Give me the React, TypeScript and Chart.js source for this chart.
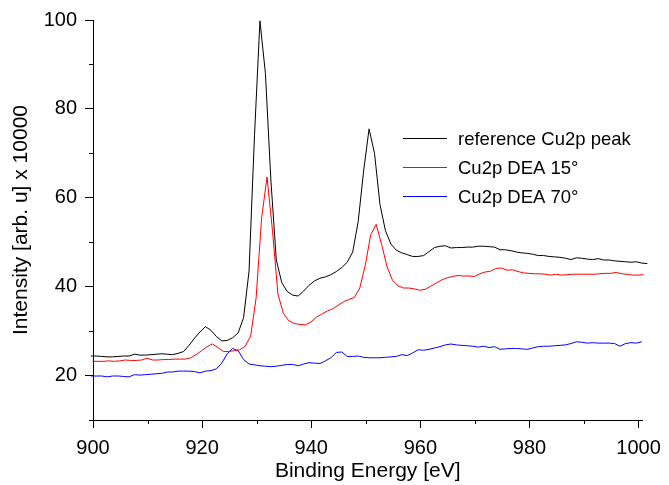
import React, { useEffect, useRef } from "react";
import { Chart, registerables } from "chart.js";

Chart.register(...registerables);

// Energy grids (eV): first sample and constant step of each spectrum
const refStart = 899.6;
const dea15Start = 899.9;
const dea70Start = 899.6;
const stepEV = 1;

// Intensities [arb. u] x 10000
const refPeak = [
  24.4, 24.4, 24.3, 24.2, 24.2, 24.3, 24.4, 24.4, 24.8, 24.6,
  24.6, 24.7, 24.8, 24.9, 24.8, 24.7, 25.0, 25.4, 26.8, 28.4,
  29.8, 31.0, 30.2, 28.8, 27.8, 27.9, 28.5, 29.6, 33.0, 43.5,
  74.0, 99.8, 88.0, 64.0, 46.0, 40.9, 38.9, 38.1, 37.9, 39.0,
  40.3, 41.3, 41.9, 42.2, 42.7, 43.4, 44.3, 45.5, 47.8, 54.6,
  66.0, 75.5, 70.0, 58.5, 52.6, 49.6, 48.2, 47.6, 47.2, 46.8,
  46.8, 47.0, 47.9, 48.8, 49.1, 49.2, 48.7, 48.8, 48.8, 48.9,
  48.9, 49.1, 49.1, 49.0, 48.9, 48.3, 48.3, 48.1, 47.8, 47.6,
  47.5, 47.3, 47.0, 47.0, 46.8, 46.7, 46.6, 46.4, 46.1, 46.5,
  46.4, 46.2, 46.1, 46.3, 46.0, 46.0, 45.8, 45.7, 45.6, 45.5,
  45.6, 45.3, 45.2,
];

const dea15 = [
  23.2, 23.2, 23.2, 23.3, 23.2, 23.3, 23.5, 23.4, 23.4, 23.5,
  23.9, 23.5, 23.5, 23.6, 23.6, 23.7, 23.7, 23.7, 24.0, 24.7,
  25.6, 26.5, 27.1, 26.3, 25.4, 25.4, 25.6, 25.8, 26.6, 28.9,
  37.5, 55.4, 64.7, 52.5, 38.3, 34.0, 32.3, 31.7, 31.5, 31.4,
  32.0, 33.1, 33.8, 34.5, 35.0, 35.8, 36.6, 37.1, 37.6, 39.7,
  44.8, 51.7, 54.0, 49.5, 44.5, 41.4, 40.2, 39.7, 39.7, 39.5,
  39.2, 39.4, 40.1, 40.8, 41.5, 42.0, 42.3, 42.5, 42.4, 42.4,
  42.3, 42.9, 43.3, 43.5, 44.1, 44.2, 43.7, 43.8, 43.4, 43.1,
  43.0, 42.9, 42.9, 42.8, 42.6, 42.8, 42.6, 42.7, 42.8, 42.8,
  42.8, 42.8, 42.8, 42.9, 43.0, 43.0, 43.2, 42.9, 42.8, 42.6,
  42.6, 42.7,
];

const dea70 = [
  19.9, 19.9, 19.9, 19.7, 19.9, 19.9, 19.8, 19.7, 20.2, 20.1,
  20.2, 20.3, 20.4, 20.5, 20.8, 20.8, 21.0, 21.0, 21.0, 20.9,
  20.6, 21.0, 21.1, 21.5, 22.8, 24.9, 26.1, 25.6, 23.6, 22.6,
  22.4, 22.2, 22.1, 22.0, 22.1, 22.3, 22.5, 22.5, 22.2, 22.6,
  22.9, 22.8, 22.7, 23.3, 24.0, 25.2, 25.3, 24.3, 24.3, 24.4,
  24.1, 24.0, 24.0, 24.0, 24.1, 24.2, 24.3, 24.7, 24.5, 25.1,
  25.8, 25.7, 25.9, 26.2, 26.5, 26.9, 27.1, 26.9, 26.8, 26.7,
  26.6, 26.4, 26.6, 26.3, 26.5, 25.9, 26.0, 26.1, 26.1, 26.0,
  25.9, 26.2, 26.5, 26.6, 26.6, 26.7, 26.8, 26.9, 27.2, 27.6,
  27.5, 27.3, 27.4, 27.3, 27.3, 27.3, 27.2, 26.6, 27.2, 27.4,
  27.3, 27.6,
];

const seriesLabels = ["reference Cu2p peak", "Cu2p DEA 15\u00b0", "Cu2p DEA 70\u00b0"];
const seriesColors = ["#000000", "#ff0000", "#0000ff"];

const xMajorTicks = [900, 920, 940, 960, 980, 1000];
const xMinorTicks = [910, 930, 950, 970, 990];
const yMajorTicks = [20, 40, 60, 80, 100];
const yMinorTicks = [10, 30, 50, 70, 90];

const xTitle = "Binding Energy [eV]";
const yTitle = "Intensity [arb. u] x 10000";

const FONT = "'Liberation Sans', Arial, Helvetica, sans-serif";

function toPoints(start: number, values: number[]) {
  return values.map((v, i) => ({ x: Math.round((start + i * stepEV) * 10) / 10, y: v }));
}

const decorPlugin = {
  id: "decor",
  afterDraw(chart: any) {
    const { ctx, scales } = chart;
    const xs = scales.x;
    const ys = scales.y;
    ctx.save();
    ctx.strokeStyle = "#000";
    ctx.lineWidth = 1;
    ctx.beginPath();
    for (const v of xMinorTicks) {
      const px = Math.round(xs.getPixelForValue(v)) + 0.5;
      ctx.moveTo(px, ys.bottom);
      ctx.lineTo(px, ys.bottom + 4);
    }
    for (const v of yMinorTicks) {
      const py = Math.round(ys.getPixelForValue(v)) + 0.5;
      ctx.moveTo(xs.left - 4, py);
      ctx.lineTo(xs.left, py);
    }
    ctx.stroke();

    // legend inside the plot
    const lx0 = 403;
    const lx1 = 447;
    const tx = 458;
    const y0 = 138;
    const dy = 29;
    ctx.font = `18.5px ${FONT}`;
    ctx.textBaseline = "middle";
    ctx.textAlign = "left";
    chart.data.datasets.forEach((ds: any, i: number) => {
      const yy = y0 + i * dy + 0.5;
      ctx.strokeStyle = ds.borderColor;
      ctx.beginPath();
      ctx.moveTo(lx0, yy);
      ctx.lineTo(lx1, yy);
      ctx.stroke();
      ctx.fillStyle = "#000";
      ctx.fillText(ds.label, tx, yy + 1);
    });
    ctx.restore();
  },
};

export default function App() {
  const canvasRef = useRef<HTMLCanvasElement | null>(null);

  useEffect(() => {
    if (!canvasRef.current) return;
    const starts = [refStart, dea15Start, dea70Start];
    const values = [refPeak, dea15, dea70];
    const chart = new Chart(canvasRef.current, {
      type: "line",
      data: {
        datasets: values.map((vals, i) => ({
          label: seriesLabels[i],
          data: toPoints(starts[i], vals),
          borderColor: seriesColors[i],
          backgroundColor: seriesColors[i],
          borderWidth: 1,
          pointRadius: 0,
          tension: 0,
          fill: false,
          clip: false as any,
        })),
      },
      options: {
        responsive: false,
        animation: false,
        events: [],
        layout: { padding: { top: 17, right: 23, left: 0, bottom: 0 } },
        plugins: {
          legend: { display: false },
          tooltip: { enabled: false },
        },
        scales: {
          x: {
            type: "linear",
            min: 900,
            max: 1000.7,
            afterFit: (s: any) => {
              s.height = 65;
            },
            border: { display: true, color: "#000", width: 1 },
            grid: {
              display: true,
              drawOnChartArea: false,
              drawTicks: true,
              tickLength: 8,
              tickColor: (c: any) =>
                c.tick && xMajorTicks.includes(c.tick.value) ? "#000" : "rgba(0,0,0,0)",
            },
            ticks: {
              stepSize: 10,
              includeBounds: false,
              autoSkip: false,
              maxRotation: 0,
              padding: 8,
              color: "#000",
              font: { family: FONT, size: 20 },
              callback: (v: any) => (xMajorTicks.includes(Number(v)) ? String(v) : ""),
            },
            title: {
              display: true,
              text: xTitle,
              color: "#000",
              font: { family: FONT, size: 21 },
              padding: { top: 0, bottom: 1 },
            },
          },
          y: {
            type: "linear",
            min: 10,
            max: 100,
            afterFit: (s: any) => {
              s.width = 93;
            },
            border: { display: true, color: "#000", width: 1 },
            grid: {
              display: true,
              drawOnChartArea: false,
              drawTicks: true,
              tickLength: 8,
              tickColor: (c: any) =>
                c.tick && yMajorTicks.includes(c.tick.value) ? "#000" : "rgba(0,0,0,0)",
            },
            ticks: {
              stepSize: 10,
              autoSkip: false,
              padding: 8,
              color: "#000",
              font: { family: FONT, size: 20 },
              callback: (v: any) => (yMajorTicks.includes(Number(v)) ? String(v) : ""),
            },
            title: {
              display: true,
              text: yTitle,
              color: "#000",
              font: { family: FONT, size: 21 },
              padding: { top: 9, bottom: 0 },
            },
          },
        },
      },
      plugins: [decorPlugin],
    });
    return () => chart.destroy();
  }, []);

  return (
    <div style={{ position: "fixed", left: 0, top: 0, width: 669, height: 485, background: "#fff" }}>
      <canvas ref={canvasRef} width={669} height={485} />
    </div>
  );
}
